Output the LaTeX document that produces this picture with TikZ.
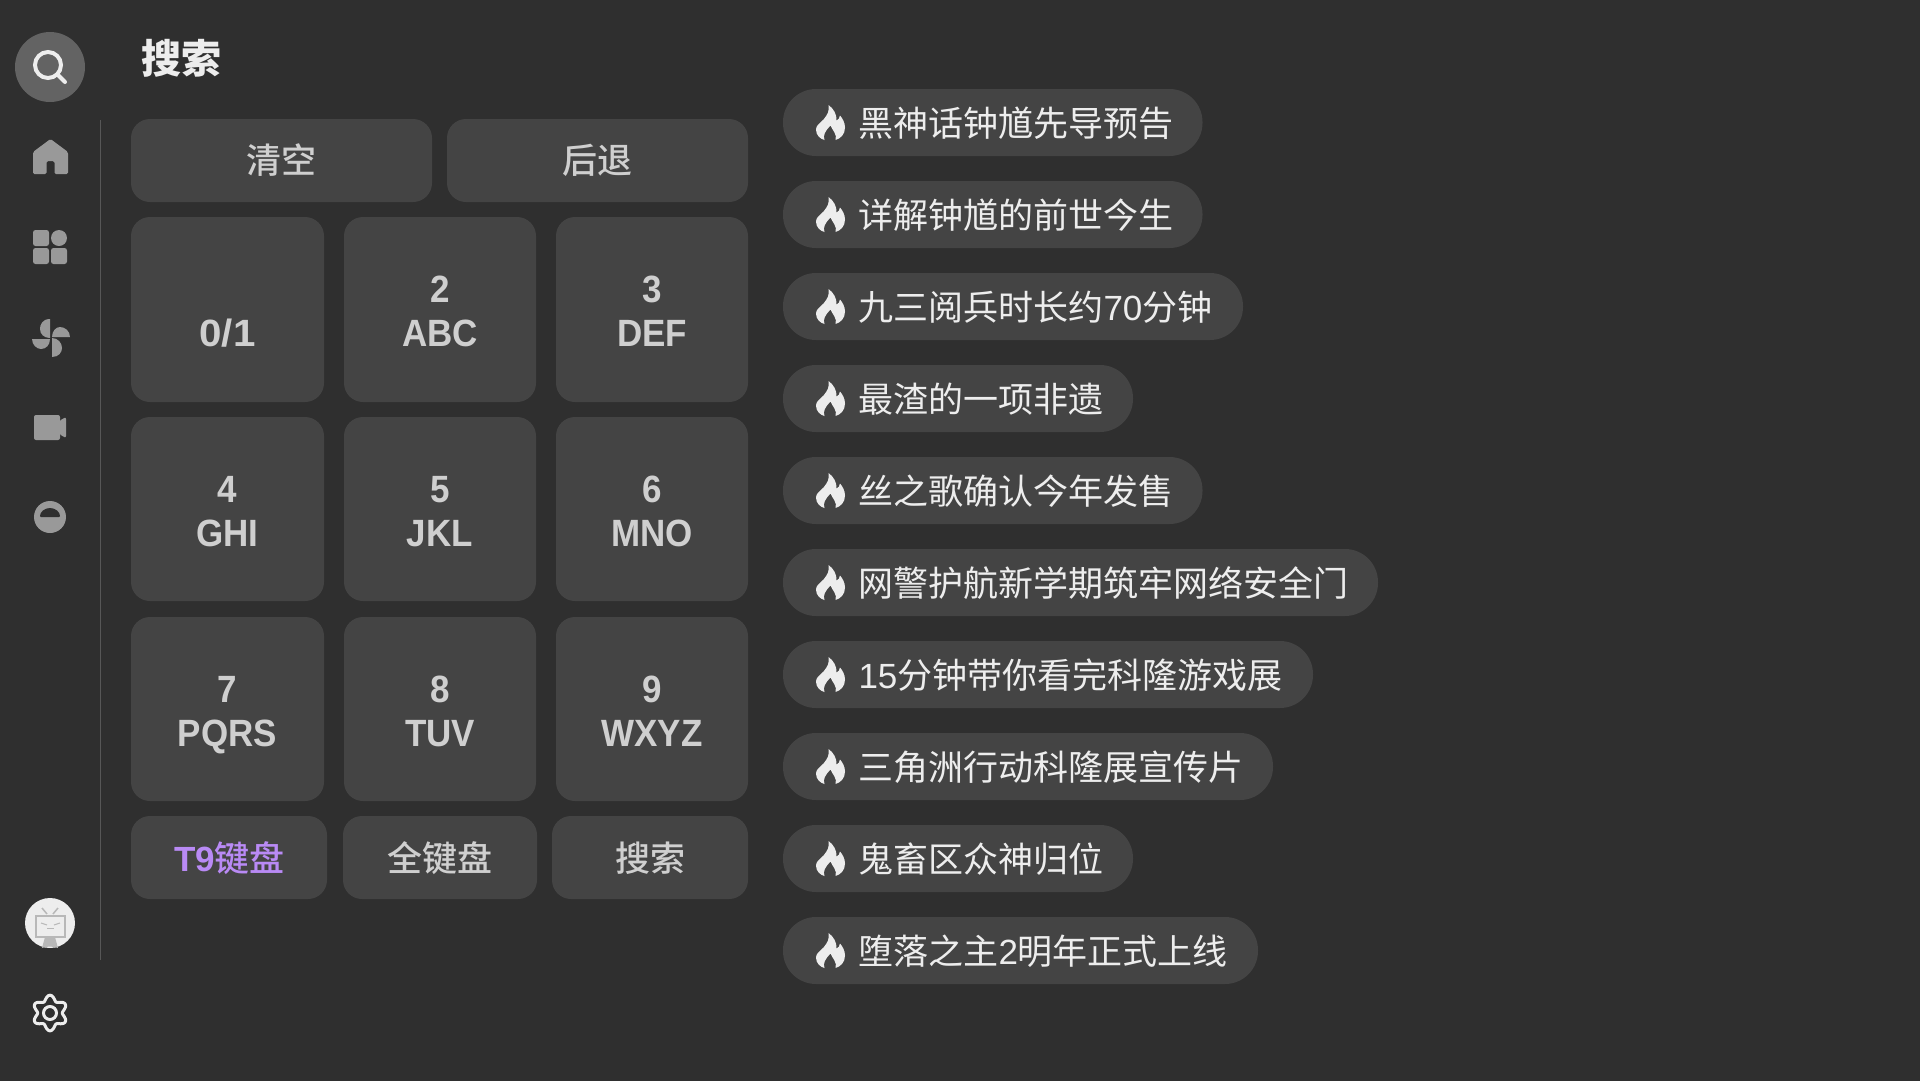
\documentclass[tikz,border=0pt]{standalone}
\usepackage{fontspec}
\setmainfont{Noto Sans CJK SC}
\newfontfamily\cjkm{Noto Sans CJK SC Medium}
\newfontfamily\lat{Liberation Sans}
\newfontfamily\latk[FakeStretch=0.92]{Liberation Sans}
\newfontfamily\latw[FakeStretch=1.06]{Liberation Sans}
\newcommand{\lt}[1]{{\lat #1}}
\definecolor{bgc}{HTML}{2F2F2F}
\definecolor{btn}{HTML}{444444}
\definecolor{keytxt}{HTML}{CFCFCF}
\definecolor{hot}{HTML}{EDEDED}
\definecolor{navc}{HTML}{999999}
\definecolor{purp}{HTML}{B98AF5}
\tikzset{
  x=1pt,y=-1pt,
  keybox/.style={fill=btn,rounded corners=19pt,inner sep=0pt,minimum width=#1},
  keyh/.style={minimum height=#1},
  pill/.style={fill=btn,rounded corners=33pt,inner sep=0pt,minimum height=67pt,minimum width=#1},
  keydigit/.style={anchor=base,text=keytxt,inner sep=0pt,font=\fontsize{38}{38}\selectfont\latk\bfseries},
  keycjk/.style={text=keytxt,inner sep=0pt,font=\fontsize{35}{35}\selectfont\cjkm},
  hottxt/.style={anchor=west,text=hot,inner sep=0pt,font=\fontsize{35}{40}\selectfont},
  navfill/.style={fill=navc,draw=none},
}
\newcommand{\flame}[2]{%
  \begin{scope}[shift={(#1,#2)}]
  \fill[hot] (-2,-17.5) .. controls (-1,-11) and (-3,-8) .. (-7,-3)
     .. controls (-11,1) and (-14.5,3) .. (-14.5,7)
     .. controls (-14.5,13) and (-10,16.5) .. (-6,17.5)
     .. controls (-8,13) and (-5,8) .. (0,3)
     .. controls (2,8) and (7,12) .. (5,17.5)
     .. controls (10,16) and (14.5,12) .. (14.5,5)
     .. controls (14.5,0) and (12,-4) .. (9.5,-7)
     .. controls (9,-4) and (8,-3) .. (6,-2)
     .. controls (6.5,-8) and (3,-14) .. (-2,-17.5) -- cycle;
  \end{scope}}
\newcommand{\pillrow}[5]{% name, left x(ignored), right x, center y, text
  \pgfmathsetmacro{\pw}{#3-783}\pgfmathsetmacro{\pc}{(#3+783)/2}
  \node[pill=\pw pt] (#1) at (\pc,#4) {};
  \flame{830.5}{#4}
  \node[hottxt] (#1t) at (858.3,#4+1) {#5};}
\newcommand{\keyr}[7]{% name cx cy w h digit letters
  \node[keybox=#4pt,keyh=#5pt] (#1) at (#2,#3) {};
  \pgfmathsetmacro{\da}{#3-7}\pgfmathsetmacro{\db}{#3+37}
  \node[keydigit] (#1d) at (#2,\da) {#6};
  \node[keydigit] (#1l) at (#2,\db) {#7};}
\begin{document}
\begin{tikzpicture}
\useasboundingbox (0,0) rectangle (1920,1080);
\fill[bgc] (-5,-5) rectangle (1925,1085);
% sidebar
\coordinate (railtop) at (100,120);
\coordinate (railbot) at (100,960);
\draw[color=btn!90!white,line width=1pt] (railtop) -- (railbot);
\node[circle,fill=white!25!bgc,minimum size=70pt,inner sep=0pt] (searchnav) at (50,67) {};
\draw[hot,line width=4pt] (48,65) circle (13);
\draw[hot,line width=4pt,line cap=round] (58,75) -- (65,82);
% home
\fill[navc,rounded corners=1.5pt] (33,174) -- (33,152) -- (50.5,139) -- (68,152) -- (68,174) -- (54.5,174) -- (54.5,161) -- (46.5,161) -- (46.5,174) -- cycle;
% grid
\fill[navc,rounded corners=2.5pt] (33,230) rectangle (49,246);
\fill[navc] (59,238) circle (8);
\fill[navc,rounded corners=2.5pt] (33,248) rectangle (49,264);
\fill[navc,rounded corners=2.5pt] (51,248) rectangle (67,264);
% pinwheel
\fill[navc] (50,319) .. controls (42,319) and (40,325) .. (40,329) .. controls (40,334) and (44,338) .. (50,338) -- cycle;
\fill[navc] (70,337) .. controls (70,331) and (65,327) .. (60,327) .. controls (56,327) and (52,331) .. (52,337) -- cycle;
\fill[navc] (52,357) .. controls (59,357) and (62,352) .. (62,348) .. controls (62,343) and (58,338) .. (52,338) -- cycle;
\fill[navc] (32,339) .. controls (32,345) and (37,349) .. (41,349) .. controls (46,349) and (50,345) .. (50,339) -- cycle;
% camera
\fill[navc,rounded corners=2pt] (34,415) rectangle (60,440);
\fill[navc,rounded corners=2pt] (59,421) -- (66,417) -- (66,438) -- (59,434) -- cycle;
% smile
\fill[navc] (50,517) circle (16);
\fill[bgc,rounded corners=1pt] (40,517) -- (60,517) arc[start angle=0,end angle=-180,x radius=10,y radius=9] -- cycle;
% avatar
\fill[hot] (50,923) circle (25);
\begin{scope}[color=white!72!black]
\draw[line width=2pt] (36,916) rectangle (65,937);
\draw[line width=1.5pt] (42,908) -- (47,914);
\draw[line width=1.5pt] (58,908) -- (53,914);
\fill (42,948) -- (45,937) -- (55,937) -- (58,948) arc[start angle=-70,end angle=-110,radius=24] -- cycle;
\draw[line width=1pt] (41,923) -- (47,925);
\draw[line width=1pt] (60,923) -- (54,925);
\draw[line width=1pt] (47,928) -- (54,928);
\end{scope}
% gear
\draw[hot,line width=3pt,line join=round] plot[domain=0:360,samples=145,smooth] ({50+(15+2.6*cos(6*\x))*cos(\x+90)},{1013+(15.2+2.6*cos(6*\x))*sin(\x+90)}) -- cycle;
\draw[hot,line width=3pt] (50,1013) circle (6.5);
% title
\node[text=hot,inner sep=0pt,font=\fontsize{40}{40}\selectfont\bfseries] (title) at (181.5,58) {搜索};
% top buttons
\node[keybox=301pt,keyh=83pt] (clr) at (281.5,160.5) {};
\node[keycjk] (clrt) at (clr.center) {清空};
\node[keybox=301pt,keyh=83pt] (bk) at (597.5,160.5) {};
\node[keycjk] (bkt) at (bk.center) {后退};
% keypad
\keyr{ka}{227.5}{309.5}{193}{185}{}{\latw 0/1}
\keyr{kb}{440}{309.5}{192}{185}{2}{ABC}
\keyr{kc}{652}{309.5}{192}{185}{3}{DEF}
\keyr{kd}{227.5}{509}{193}{184}{4}{GHI}
\keyr{ke}{440}{509}{192}{184}{5}{JKL}
\keyr{kf}{652}{509}{192}{184}{6}{MNO}
\keyr{kg}{227.5}{709}{193}{184}{7}{PQRS}
\keyr{kh}{440}{709}{192}{184}{8}{TUV}
\keyr{ki}{652}{709}{192}{184}{9}{WXYZ}
% bottom buttons
\node[keybox=196pt,keyh=83pt] (t9) at (229,857.5) {};
\node[keycjk,text=purp] (t9t) at (229.5,858) {{\lat\bfseries T9}键盘};
\node[keybox=194pt,keyh=83pt] (full) at (440,857.5) {};
\node[keycjk] (fullt) at (440,858) {全键盘};
\node[keybox=196pt,keyh=83pt] (srch) at (650,857.5) {};
\node[keycjk] (srcht) at (650,858) {搜索};
% hot list
\pillrow{p1}{783}{1202.5}{122.5}{黑神话钟馗先导预告}
\pillrow{p2}{783}{1202.5}{214.5}{详解钟馗的前世今生}
\pillrow{p3}{783}{1243}{306.5}{九三阅兵时长约\lt{70}分钟}
\pillrow{p4}{783}{1133}{398.5}{最渣的一项非遗}
\pillrow{p5}{783}{1202.5}{490.5}{丝之歌确认今年发售}
\pillrow{p6}{783}{1378}{582.5}{网警护航新学期筑牢网络安全门}
\pillrow{p7}{783}{1313}{674.5}{\lt{15}分钟带你看完科隆游戏展}
\pillrow{p8}{783}{1273}{766.5}{三角洲行动科隆展宣传片}
\pillrow{p9}{783}{1133}{858.5}{鬼畜区众神归位}
\pillrow{p10}{783}{1258}{950.5}{堕落之主\lt{2}明年正式上线}
\end{tikzpicture}
\end{document}
